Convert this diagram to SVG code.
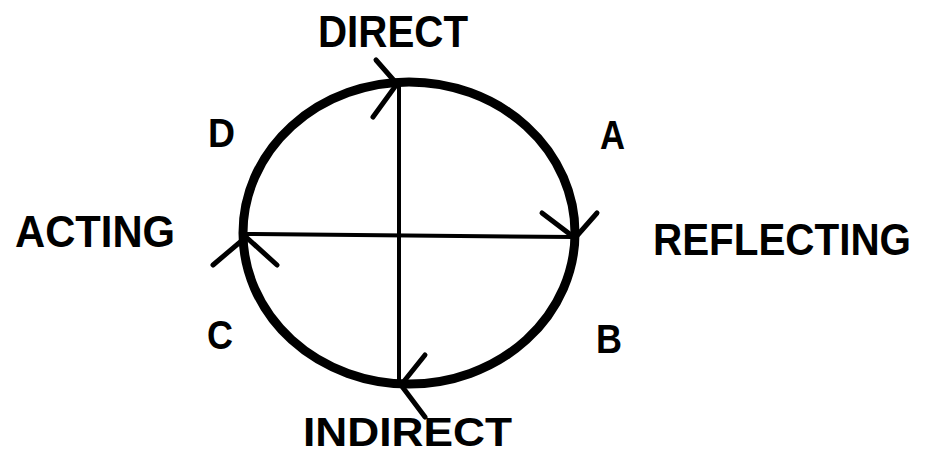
<svg xmlns="http://www.w3.org/2000/svg" width="930" height="455" viewBox="0 0 930 455">
<style>
text{font-family:"Liberation Sans",Arial,sans-serif;font-weight:bold;fill:#000}
.big{font-size:45px}
.let{font-size:41px}
.ring{fill:none;stroke:#000;stroke-width:9}
.axis{stroke:#000;stroke-width:4;fill:none}
.head{stroke:#000;stroke-width:5;stroke-linecap:round;fill:none}
</style>
<rect width="930" height="455" fill="#fff"/>
<g id="cycle">
<ellipse class="ring" cx="409" cy="233" rx="166" ry="151"/>
</g>
<g id="connectors">
<line class="axis" x1="399" y1="82" x2="399" y2="384"/>
<line class="axis" x1="245" y1="234" x2="574" y2="237"/>
<path class="head" d="M376,60 L397,84 L373,117"/>
<path class="head" d="M542,213 L575,238 L597,213"/>
<path class="head" d="M213,265 L246,237 L277,265"/>
<path class="head" d="M425,355 L401,385 L425,417"/>
</g>
<g id="direct"><text class="big" x="318" y="47" textLength="150" lengthAdjust="spacingAndGlyphs">DIRECT</text></g>
<g id="indirect"><text x="303" y="446" font-size="40" textLength="209" lengthAdjust="spacingAndGlyphs">INDIRECT</text></g>
<g id="acting"><text class="big" x="15" y="247" textLength="160" lengthAdjust="spacingAndGlyphs">ACTING</text></g>
<g id="reflecting"><text transform="translate(653,255) scale(1,1.12)" x="0" y="0" font-size="40" textLength="258" lengthAdjust="spacingAndGlyphs">REFLECTING</text></g>
<g id="a"><text class="let" x="600" y="149" textLength="25" lengthAdjust="spacingAndGlyphs">A</text></g>
<g id="b"><text class="let" x="596" y="353" textLength="26" lengthAdjust="spacingAndGlyphs">B</text></g>
<g id="c"><text class="let" x="207" y="349" textLength="26" lengthAdjust="spacingAndGlyphs">C</text></g>
<g id="d"><text class="let" x="208" y="147" textLength="27" lengthAdjust="spacingAndGlyphs">D</text></g>
</svg>
